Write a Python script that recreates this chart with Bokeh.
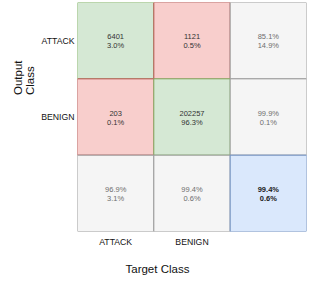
from bokeh.plotting import figure
from bokeh.models import Range1d, FixedTicker, Title, ColumnDataSource
from bokeh.core.properties import value
from bokeh.embed import file_html
from bokeh.resources import INLINE

classes = ["ATTACK", "BENIGN"]
counts = [[6401, 1121], [203, 202257]]          # rows = output class, cols = target class
cell_pcts = [["3.0%", "0.5%"], ["0.1%", "96.3%"]]
row_summary = [["85.1%", "14.9%"], ["99.9%", "0.1%"]]
col_summary = [["96.9%", "3.1%"], ["99.4%", "0.6%"]]
overall = ["99.4%", "0.6%"]
x_title = "Target Class"
y_title = "Output\nClass"

FONT = "Liberation Sans"
fills = {"good": "#d5e8d4", "bad": "#f8cecc", "sum": "#f5f5f5", "tot": "#dae8fc"}
lines = {"good": "#82b366", "bad": "#b85450", "sum": "#9a9a9a", "tot": "#6c8ebf"}

xs, ys, kinds, l1, l2, tcol, tw = [], [], [], [], [], [], []
n = len(classes)
for r in range(n):
    for c in range(n):
        xs.append(c + 0.5); ys.append(n - r + 0.5)
        k = "good" if r == c else "bad"
        kinds.append(k); l1.append(str(counts[r][c])); l2.append(cell_pcts[r][c])
        tcol.append("#333333"); tw.append("normal")
    xs.append(n + 0.5); ys.append(n - r + 0.5); kinds.append("sum")
    l1.append(row_summary[r][0]); l2.append(row_summary[r][1]); tcol.append("#6e6e6e"); tw.append("normal")
for c in range(n):
    xs.append(c + 0.5); ys.append(0.5); kinds.append("sum")
    l1.append(col_summary[c][0]); l2.append(col_summary[c][1]); tcol.append("#6e6e6e"); tw.append("normal")
xs.append(n + 0.5); ys.append(0.5); kinds.append("tot")
l1.append(overall[0]); l2.append(overall[1]); tcol.append("#1a1a1a"); tw.append("bold")

src = ColumnDataSource(dict(x=xs, y=ys, fill=[fills[k] for k in kinds], line=[lines[k] for k in kinds],
                            l1=l1, l2=l2, tc=tcol, tw=tw))

p = figure(width=309, height=291, output_backend="svg", toolbar_location=None,
           x_range=Range1d(0, 3), y_range=Range1d(0, 3),
           min_border_left=77, min_border_right=3, min_border_top=2, min_border_bottom=60)
p.rect("x", "y", 1, 1, source=src, fill_color="fill", line_color="line", line_width=1)
p.text("x", "y", text="l1", source=src, y_offset=-4, text_align="center", text_baseline="middle",
       text_font=value(FONT), text_font_size="7.5px", text_color="tc", text_font_style="tw")
p.text("x", "y", text="l2", source=src, y_offset=5, text_align="center", text_baseline="middle",
       text_font=value(FONT), text_font_size="7.5px", text_color="tc", text_font_style="tw")

p.xgrid.visible = False
p.ygrid.visible = False
p.outline_line_color = None

p.xaxis.ticker = FixedTicker(ticks=[0.5, 1.5])
p.xaxis.major_label_overrides = {0.5: classes[0], 1.5: classes[1]}
p.yaxis.ticker = FixedTicker(ticks=[2.5, 1.5])
p.yaxis.major_label_overrides = {2.5: classes[0], 1.5: classes[1]}
for ax in (p.xaxis, p.yaxis):
    ax.axis_line_color = None
    ax.major_tick_line_color = None
    ax.minor_tick_line_color = None
    ax.major_tick_out = 0
    ax.major_tick_in = 0
    ax.minor_tick_out = 0
    ax.minor_tick_in = 0
    ax.major_label_text_font = FONT
    ax.major_label_text_font_size = "8.7px"
    ax.major_label_text_color = "#111111"
p.xaxis.major_label_standoff = 5
p.yaxis.major_label_standoff = 3

p.add_layout(Title(text=x_title, align="left", offset=48, standoff=23, text_font=FONT,
                   text_font_size="11.5px", text_font_style="normal", text_color="#111111"), "below")
p.add_layout(Title(text=y_title, align="right", offset=58, standoff=6, text_font=FONT,
                   text_font_size="11.5px", text_font_style="normal", text_color="#111111",
                   text_line_height=1.0), "left")

open("out.html", "w").write(file_html(p, INLINE))
